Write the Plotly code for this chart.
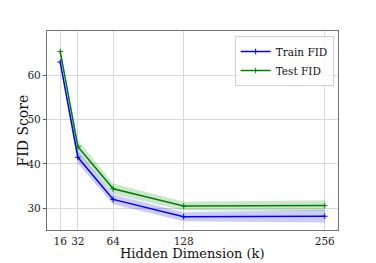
import plotly.graph_objects as go

hidden_dim = [16, 32, 64, 128, 256]
train_fid = [63.0, 41.5, 32.0, 28.1, 28.2]
train_std = [0.5, 1.4, 1.1, 1.0, 1.4]
test_fid = [65.4, 43.9, 34.4, 30.5, 30.6]
test_std = [0.5, 1.5, 1.2, 1.0, 1.2]
y_ticks = [30, 40, 50, 60]

FONT = "DejaVu Serif"
fig = go.Figure()

def add_series(y, s, color, fill, name):
    up = [a + b for a, b in zip(y, s)]
    lo = [a - b for a, b in zip(y, s)]
    fig.add_trace(go.Scatter(x=hidden_dim, y=up, mode="lines", line=dict(width=0),
                             showlegend=False, hoverinfo="skip"))
    fig.add_trace(go.Scatter(x=hidden_dim, y=lo, mode="lines", line=dict(width=0),
                             fill="tonexty", fillcolor=fill, showlegend=False, hoverinfo="skip"))
    fig.add_trace(go.Scatter(x=hidden_dim, y=y, mode="lines+markers", name=name,
                             line=dict(color=color, width=1.5),
                             marker=dict(symbol="cross-thin", size=4, color=color,
                                         line=dict(color=color, width=1))))

add_series(train_fid, train_std, "#0000ff", "rgba(0,0,255,0.2)", "Train FID")
add_series(test_fid, test_std, "#008000", "rgba(0,128,0,0.2)", "Test FID")

axis_common = dict(showgrid=True, gridcolor="#d8d8d8", gridwidth=1, zeroline=False,
                   showline=True, linecolor="#707070", linewidth=1.2, mirror=True,
                   tickcolor="#555555", tickwidth=1, automargin=False,
                   tickfont=dict(family=FONT, size=10.5, color="#222222"))

fig.update_layout(
    width=376, height=263,
    margin=dict(l=47, r=38, t=31, b=33, autoexpand=False),
    paper_bgcolor="white", plot_bgcolor="white",
    font=dict(family=FONT, color="#111111"),
    xaxis=dict(range=[4, 268], tickvals=hidden_dim, ticktext=[str(v) for v in hidden_dim],
               ticks="", ticklabelstandoff=1, **axis_common),
    yaxis=dict(range=[25.1, 70], tickvals=y_ticks, ticks="outside", ticklen=3,
               **axis_common),
    legend=dict(x=0.985, y=0.975, xanchor="right", yanchor="top", traceorder="normal",
                bgcolor="rgba(255,255,255,0.8)", bordercolor="#d0d0d0", borderwidth=1,
                font=dict(family=FONT, size=10.5), tracegroupgap=0, itemwidth=30),
    annotations=[
        dict(text="Hidden Dimension (k)", xref="paper", yref="paper", x=0.5, y=-0.117,
             xanchor="center", yanchor="middle", showarrow=False,
             font=dict(family=FONT, size=13, color="#111111")),
        dict(text="FID Score", xref="paper", yref="paper", x=-0.0859, y=0.5,
             xanchor="center", yanchor="middle", showarrow=False, textangle=-90,
             font=dict(family=FONT, size=14, color="#111111")),
    ],
)

fig.write_html("out.html", config={"displayModeBar": False},
               post_script="document.body.style.margin='0';document.body.style.overflow='hidden';")
